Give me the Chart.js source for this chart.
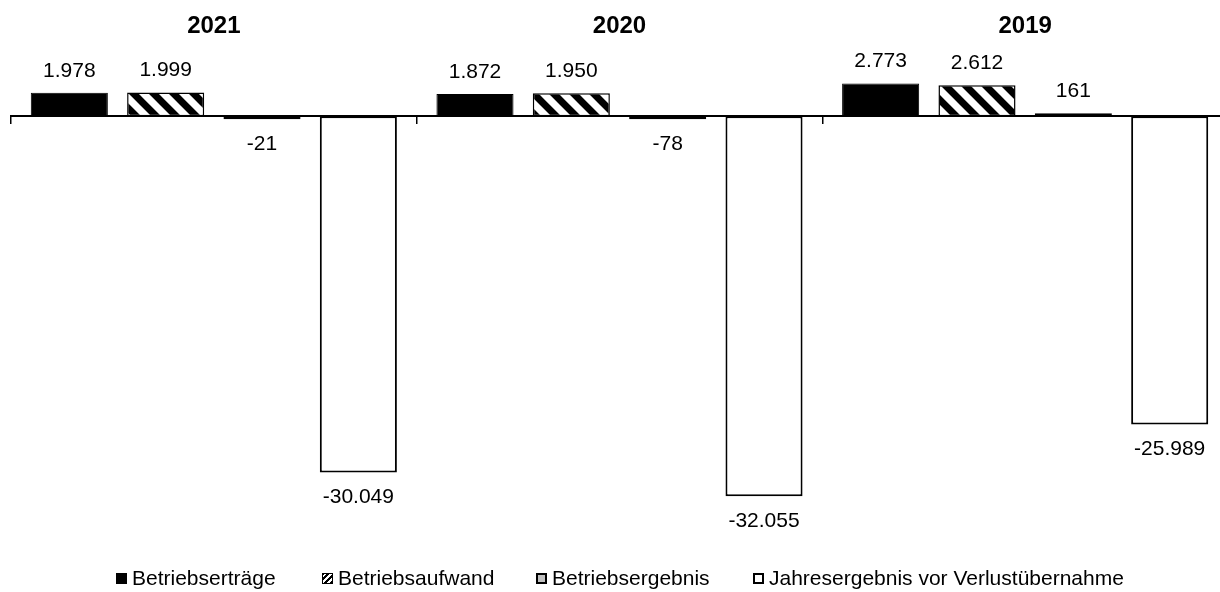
<!DOCTYPE html>
<html>
<head>
  <meta charset="utf-8">
  <title>Betriebsergebnis</title>
  <script src="https://cdn.jsdelivr.net/npm/chart.js"></script>
  <style>
    body { margin: 0; overflow: hidden; background: #fff; font-family: "Liberation Sans", Arial, sans-serif; }
    #wrap { position: relative; width: 1232px; height: 592px; }
    .leg { position: absolute; top: 566px; height: 24px; line-height: 24px; font-size: 21px; color: #000; white-space: nowrap; }
    .leg i { display: inline-block; width: 11px; height: 11px; box-sizing: border-box; margin-right: 5px; vertical-align: 1px; }
  </style>
</head>
<body>
<div id="wrap">
  <canvas id="chart" width="1232" height="592"></canvas>
  <div id="legend"></div>
</div>

<script>
  // data
  const years = ['2021', '2020', '2019'];
  const seriesNames = ['Betriebserträge', 'Betriebsaufwand', 'Betriebsergebnis', 'Jahresergebnis vor Verlustübernahme'];
  const ertraege = [1978, 1872, 2773];
  const aufwand = [1999, 1950, 2612];
  const ergebnis = [-21, -78, 161];
  const jahresergebnis = [-30049, -32055, -25989];

  // 1234 -> 1.234
  function fmt(v) {
    const s = Math.abs(v).toString().replace(/\B(?=(\d{3})+(?!\d))/g, '.');
    return (v < 0 ? '-' : '') + s;
  }

  // diagonal stripes for Betriebsaufwand
  function hatch() {
    const s = 20;
    const c = document.createElement('canvas');
    c.width = s; c.height = s;
    const g = c.getContext('2d');
    g.fillStyle = '#fff';
    g.fillRect(0, 0, s, s);
    g.strokeStyle = '#000';
    g.lineWidth = 7;
    g.beginPath();
    for (let k = -2; k <= 2; k++) {
      g.moveTo(k * s - s, -s);
      g.lineTo(k * s + 2 * s, 2 * s);
    }
    g.stroke();
    return g.createPattern(c, 'repeat');
  }

  const valueLabels = {
    id: 'valueLabels',
    afterDatasetsDraw(chart) {
      const ctx = chart.ctx;
      ctx.save();
      ctx.font = '21px "Liberation Sans", Arial, sans-serif';
      ctx.fillStyle = '#000';
      ctx.textAlign = 'center';
      ctx.textBaseline = 'middle';
      chart.data.datasets.forEach((ds, i) => {
        chart.getDatasetMeta(i).data.forEach((bar, j) => {
          const v = ds.data[j];
          ctx.fillText(fmt(v), bar.x, v >= 0 ? bar.y - 22 : bar.y + 25);
        });
      });
      ctx.restore();
    }
  };

  new Chart(document.getElementById('chart'), {
    type: 'bar',
    data: {
      labels: years,
      datasets: [
        { label: seriesNames[0], data: ertraege, backgroundColor: '#000', borderColor: '#000', borderWidth: 1 },
        { label: seriesNames[1], data: aufwand, backgroundColor: hatch(), borderColor: '#000', borderWidth: 1.5 },
        { label: seriesNames[2], data: ergebnis, backgroundColor: '#c0c0c0', borderColor: '#000', borderWidth: 1.5, minBarLength: 3 },
        { label: seriesNames[3], data: jahresergebnis, backgroundColor: '#fff', borderColor: '#000', borderWidth: 2 }
      ]
    },
    options: {
      responsive: false,
      animation: false,
      categoryPercentage: 0.95,
      barPercentage: 0.8,
      layout: { padding: { left: 11, right: 4, top: 0, bottom: 37 } },
      datasets: { bar: { borderSkipped: false } },
      plugins: {
        legend: { display: false },
        tooltip: { enabled: false }
      },
      scales: {
        x: {
          position: { y: 0 },
          offset: true,
          ticks: { display: false },
          grid: { offset: true, drawOnChartArea: false, drawTicks: true, tickLength: 7, color: '#000', lineWidth: 1.5 },
          border: { display: true, color: '#000', width: 2 }
        },
        x2: {
          type: 'category',
          axis: 'x',
          position: 'top',
          offset: true,
          grid: { display: false, drawTicks: false },
          border: { display: false },
          ticks: { color: '#000', padding: 16, font: { family: '"Liberation Sans", Arial, sans-serif', size: 24, weight: 'bold' } },
          afterFit(scale) { scale.height = 57; }
        },
        y: {
          display: false,
          min: -37000,
          max: 5000
        }
      }
    },
    plugins: [valueLabels]
  });

  // legend
  const swatches = [
    'background:#000;',
    'border:1.5px solid #000;background:repeating-linear-gradient(-45deg,#000 0 2px,#fff 2px 4px);',
    'border:2px solid #000;background:#c0c0c0;',
    'border:2px solid #000;background:#fff;'
  ];
  const legendLeft = [116, 322, 536, 753];
  const legend = document.getElementById('legend');
  seriesNames.forEach((name, i) => {
    const d = document.createElement('div');
    d.className = 'leg';
    d.style.left = legendLeft[i] + 'px';
    d.innerHTML = '<i style="' + swatches[i] + '"></i>' + name;
    legend.appendChild(d);
  });
</script>
</body>
</html>
